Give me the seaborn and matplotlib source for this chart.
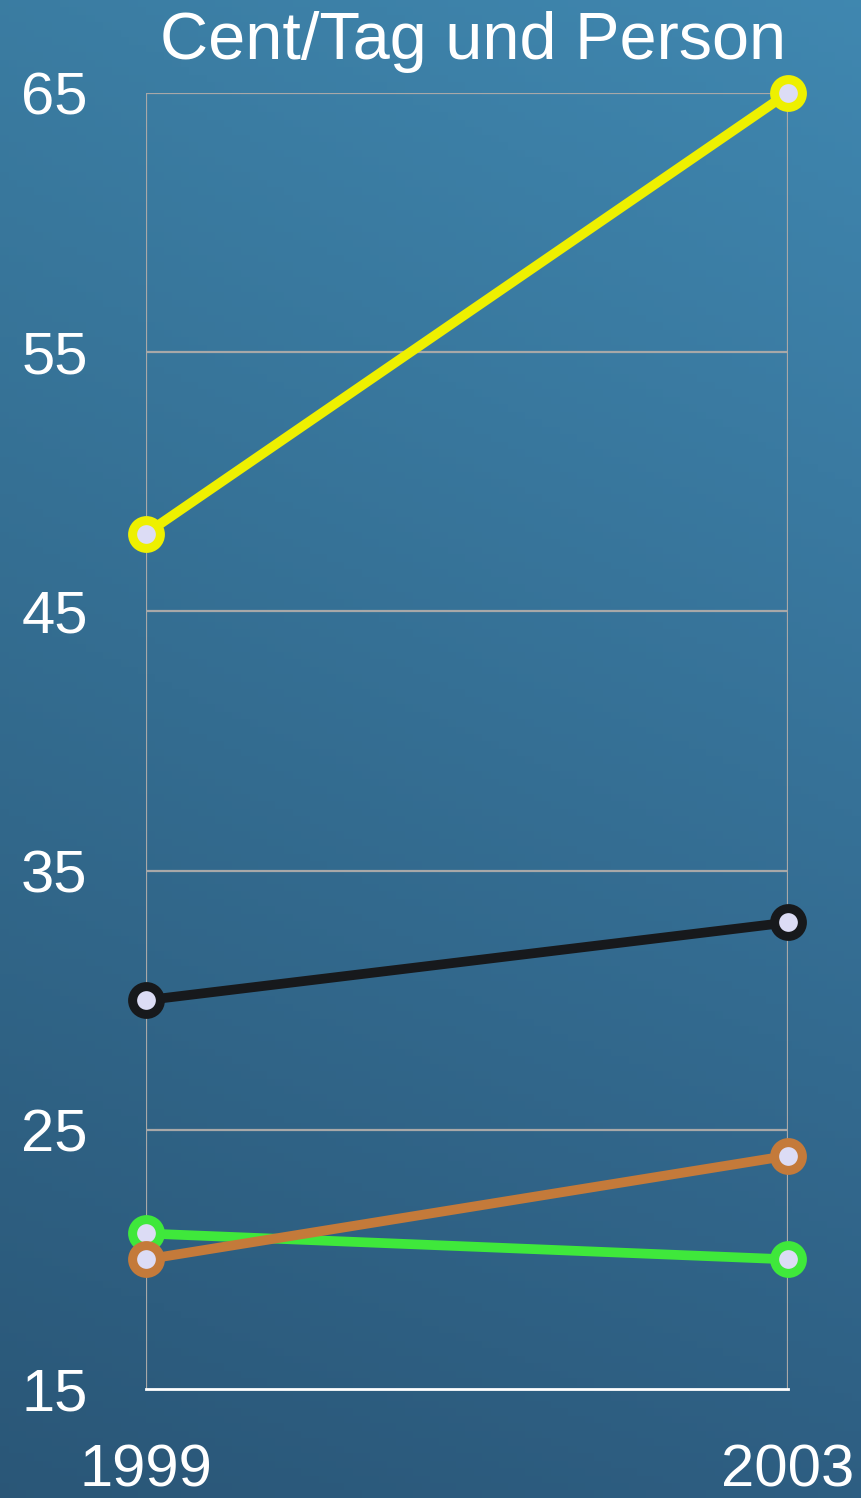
import numpy as np
import pandas as pd
import matplotlib.pyplot as plt
import seaborn as sns

# data
years = [1999, 2003]
series_names = ["gelb", "schwarz", "gruen", "orange"]
values = {
    "gelb": [48, 65],
    "schwarz": [30, 33],
    "gruen": [21, 20],
    "orange": [20, 24],
}
colors = {
    "gelb": "#eef000",
    "schwarz": "#17191c",
    "gruen": "#3fe83b",
    "orange": "#c47a3a",
}
yticks = [15, 25, 35, 45, 55, 65]

rows = []
for name in series_names:
    for yr, v in zip(years, values[name]):
        rows.append({"Jahr": yr, "Wert": v, "Reihe": name})
df = pd.DataFrame(rows)

sns.set_style("white")
plt.rcParams["font.family"] = ["Liberation Sans", "DejaVu Sans"]

fig = plt.figure(figsize=(8.61, 14.98), dpi=100)

# blue chalkboard-ish background (smooth gradient)
bg = fig.add_axes([0, 0, 1, 1])
gy, gx = np.mgrid[0:1:200j, 0:1:100j]
top = np.array([0.25, 0.53, 0.69])
bot = np.array([0.18, 0.37, 0.51])
t = gy[..., None]
img = top * (1 - t) + bot * t
img = img * (0.92 + 0.08 * gx[..., None])
bg.imshow(np.clip(img, 0, 1), aspect="auto", extent=[0, 1, 0, 1])
bg.axis("off")

ax = fig.add_axes([146 / 861, 109 / 1498, (788 - 146) / 861, (1389 - 93) / 1498])
ax.patch.set_alpha(0)

for name in series_names:
    sub = df[df["Reihe"] == name]
    sns.lineplot(data=sub, x="Jahr", y="Wert", ax=ax, color=colors[name],
                 linewidth=7, marker="o", markersize=20,
                 markerfacecolor="#dcdcf5", markeredgecolor=colors[name],
                 markeredgewidth=6.5, clip_on=False, zorder=5)

ax.set_xlim(1999, 2003)
ax.set_ylim(15, 65)
ax.set_yticks(yticks)
ax.set_xticks(years)
ax.set_xticklabels([str(y) for y in years])
ax.set_xlabel("")
ax.set_ylabel("")

for yv in yticks[1:]:
    ax.axhline(yv, color="#a8a8a8", lw=1.6, zorder=1)
for xv in years:
    ax.axvline(xv, color="#a8a8a8", lw=1.6, zorder=1)

for s in ["top", "left", "right"]:
    ax.spines[s].set_visible(False)
ax.spines["bottom"].set_color("white")
ax.spines["bottom"].set_linewidth(2)
ax.tick_params(axis="x", colors="white", labelsize=43, length=6, width=1.5,
               direction="inout", pad=36)
ax.tick_params(axis="y", colors="white", labelsize=43, length=0, pad=42)

fig.text(473 / 861, 1 - 42 / 1498, "Cent/Tag und Person", color="white",
         fontsize=48, ha="center", va="center")

fig.savefig("out.png", dpi=100)
